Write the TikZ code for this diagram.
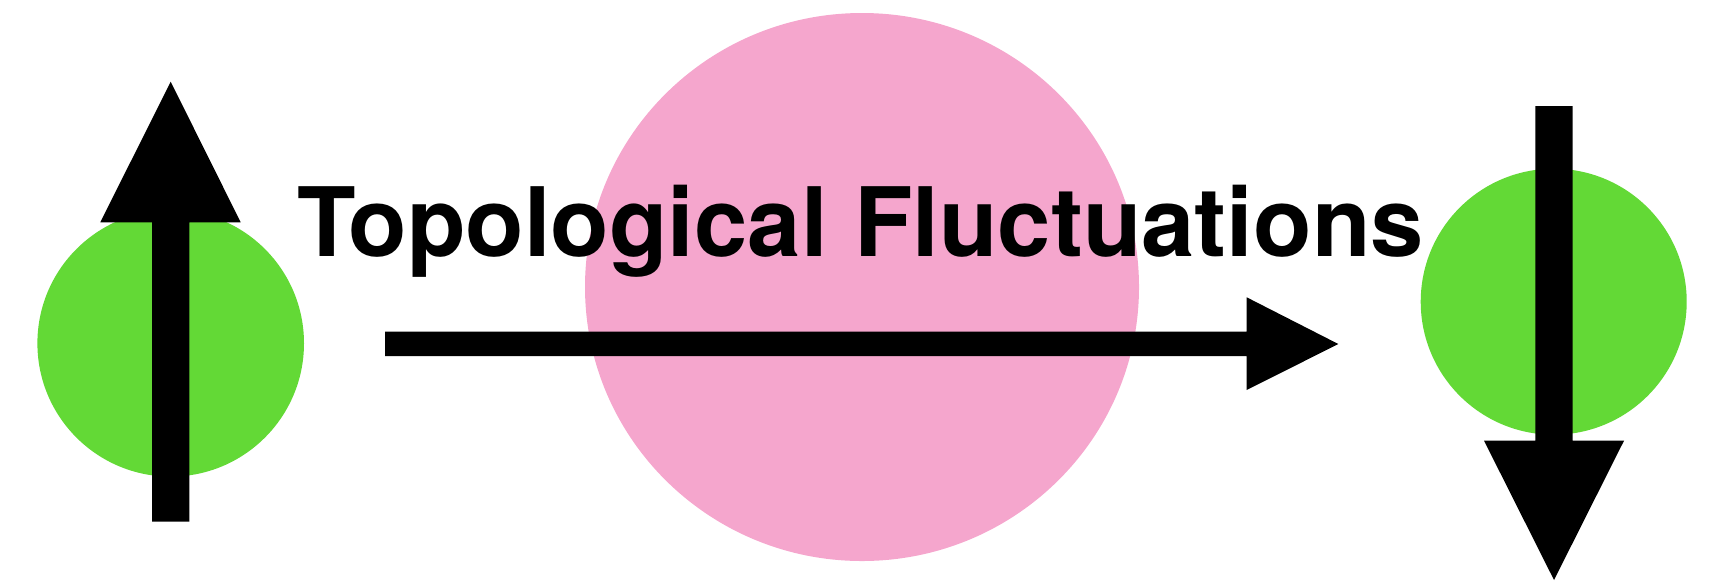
\documentclass[tikz,border=0pt]{standalone}
\usepackage{fontspec}
\setmainfont{TeX Gyre Heros}
\definecolor{pinkfill}{RGB}{245,166,205}
\definecolor{greenfill}{RGB}{99,217,54}
\begin{document}
\begin{tikzpicture}[x=0.5pt,y=-0.5pt,
  blob/.style={fill=#1,draw=none},
  arrowshape/.style={fill=black,draw=none},
  title/.style={inner sep=0pt,anchor=base,font=\fontsize{47.9pt}{50pt}\selectfont\bfseries}]
\useasboundingbox (0,0) rectangle (1716,580);
% background blobs
\fill[blob=pinkfill] (862,287) ellipse [x radius=277, y radius=274];
\fill[blob=greenfill] (170.7,343.3) circle [radius=133.3];
\fill[blob=greenfill] (1553.7,301.7) circle [radius=133];
% title
\node[title] (label) at (860.5,256.3) {Topological Fluctuations};
% spin up arrow (left)
\fill[arrowshape] (152,521.7) -- (189.3,521.7) -- (189.3,222.3) -- (240.7,222.3)
  -- (170.7,81.7) -- (100.3,222.3) -- (152,222.3) -- cycle;
% spin down arrow (right)
\fill[arrowshape] (1535.3,106) -- (1572.7,106) -- (1572.7,440.7) -- (1624,440.7)
  -- (1554,580) -- (1484,440.7) -- (1535.3,440.7) -- cycle;
% horizontal arrow
\fill[arrowshape] (385.2,331.7) -- (1246.7,331.7) -- (1246.7,297.3) -- (1338.3,344)
  -- (1246.7,390) -- (1246.7,356) -- (385.2,356) -- cycle;
\end{tikzpicture}
\end{document}
